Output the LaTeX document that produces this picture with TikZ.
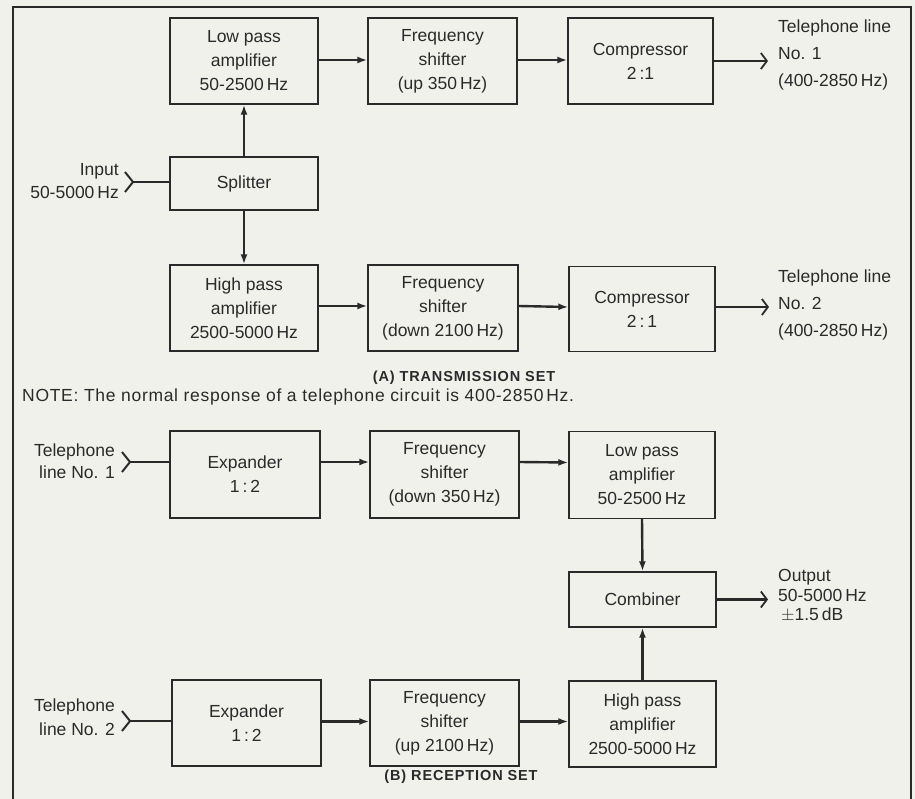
\documentclass[tikz,border=0pt]{standalone}
\usepackage{fontspec}
\setmainfont{Liberation Sans}
\usetikzlibrary{arrows.meta}
\definecolor{paper}{HTML}{F1F1EC}
\definecolor{ink}{HTML}{2A2A2A}
\tikzset{
  blk/.style={draw=ink, line width=1.3pt, minimum width=148pt, minimum height=86pt, inner sep=0pt,
    align=center, text=ink, font=\fontsize{17.5}{24}\selectfont},
  lbl/.style={inner sep=0pt, text=ink, font=\fontsize{17.5}{24}\selectfont},
  arr/.style={draw=ink, line width=2.4pt, -{Latex[length=10pt,width=7pt]}},
  outarr/.style={draw=ink, line width=2.4pt, -{Straight Barb[length=6pt,width=16pt,line width=1.8pt]}},
  fork/.style={draw=ink, line width=2pt},
  capt/.style={inner sep=0pt, text=ink, font=\fontsize{14.5}{16}\selectfont\bfseries\addfontfeature{LetterSpace=6}},
}
\begin{document}
\begin{tikzpicture}[x=1pt,y=-1pt]
\fill[paper] (0,0) rectangle (915,799);
\useasboundingbox (0,0) rectangle (915,799);
% frame
\draw[ink, line width=1.6pt] (13,799) -- (13,7) -- (911,7) -- (911,799);

% ---- (A) transmission set
\node[blk] (tlp) at (244,61) {Low pass\\amplifier\\50-2500\,Hz};
\node[blk, minimum width=149pt] (tfs) at (442.5,61) {Frequency\\shifter\\(up 350\,Hz)};
\node[blk, minimum width=145pt] (tcp) at (640.5,61) {Compressor\\2\,:1};
\node[blk, minimum height=53pt] (spl) at (244,183.5) {Splitter};
\node[blk] (thp) at (244,308) {High pass\\amplifier\\2500-5000\,Hz};
\node[blk, minimum width=150pt] (tfs2) at (443,308) {Frequency\\shifter\\(down 2100\,Hz)};
\node[blk, minimum width=146pt, minimum height=85pt] (tcp2) at (642,309) {Compressor\\2\,:\,1};

\node[lbl, anchor=west, align=left, font=\fontsize{17.5}{27}\selectfont] (tout1) at (778,55) {Telephone line\\No. 1\\(400-2850\,Hz)};
\node[lbl, anchor=west, align=left, font=\fontsize{17.5}{27}\selectfont] (tout2) at (778,305) {Telephone line\\No. 2\\(400-2850\,Hz)};
\node[lbl, anchor=east, align=right, font=\fontsize{17.5}{23}\selectfont] (inp) at (119,181) {Input\\50-5000\,Hz};

\coordinate (inv) at (133,182);
\coordinate (inA) at (125,172);
\coordinate (inB) at (125,192);
\draw[fork] (inA) -- (inv) -- (inB);
\draw[fork] (inv) -- (inv -| spl.west);

\draw[arr] (spl.north) -- (tlp.south);
\draw[arr] (spl.south) -- (thp.north);
\draw[arr] ([yshift=1pt]tlp.east) -- ([yshift=1pt]tfs.west);
\draw[arr] ([yshift=1pt]tfs.east) -- ([yshift=1pt]tcp.west);
\draw[outarr] (tcp.east) -- ([xshift=-10pt]tout1.west |- tcp.east);
\draw[arr] ([yshift=2pt]thp.east) -- ([yshift=2pt]tfs2.west);
\draw[arr] ([yshift=2pt]tfs2.east) -- ([yshift=2pt]tcp2.west);
\draw[outarr] ([yshift=2pt]tcp2.east) -- ([xshift=-9pt,yshift=2pt]tout2.west |- tcp2.east);

\node[capt] (capA) at (464,378) {(A) TRANSMISSION SET};
\node[lbl, anchor=west, font=\fontsize{17.5}{24}\selectfont\addfontfeature{LetterSpace=4}] (note) at (22,397) {NOTE: The normal response of a telephone circuit is 400-2850\,Hz.};

% ---- (B) reception set
\node[blk, minimum width=150pt, minimum height=87pt] (rex) at (245,474.5) {Expander\\1\,:\,2};
\node[blk, minimum width=149pt, minimum height=87pt] (rfs) at (444.5,474.5) {Frequency\\shifter\\(down 350\,Hz)};
\node[blk, minimum width=146pt, minimum height=87pt] (rlp) at (642,475) {Low pass\\amplifier\\50-2500\,Hz};
\node[blk, minimum width=147pt, minimum height=55pt] (cmb) at (642.5,599.5) {Combiner};
\node[blk, minimum width=149pt] (rex2) at (246.5,723) {Expander\\1\,:\,2};
\node[blk, minimum width=149pt] (rfs2) at (444.5,723) {Frequency\\shifter\\(up 2100\,Hz)};
\node[blk, minimum width=147pt] (rhp) at (642.5,724) {High pass\\amplifier\\2500-5000\,Hz};

\node[lbl, anchor=east, align=right, font=\fontsize{17.5}{22}\selectfont] (rin1) at (115,461) {Telephone\\line No. 1};
\node[lbl, anchor=east, align=right, font=\fontsize{17.5}{24}\selectfont] (rin2) at (115,717) {Telephone\\line No. 2};
\node[lbl, anchor=west, align=left, font=\fontsize{17.5}{19.5}\selectfont] (rout) at (778,596) {Output\\50-5000\,Hz\\\,$\pm$1.5\,dB};

\coordinate (r1v) at (130,462);
\coordinate (r1A) at (122,452);
\coordinate (r1B) at (122,472);
\draw[fork] (r1A) -- (r1v) -- (r1B);
\draw[fork] (r1v) -- (r1v -| rex.west);
\coordinate (r2v) at (130,721);
\coordinate (r2A) at (122,711);
\coordinate (r2B) at (122,731);
\draw[fork] (r2A) -- (r2v) -- (r2B);
\draw[fork] (r2v) -- (r2v -| rex2.west);

\draw[arr] ([yshift=12.5pt]rex.east) -- ([yshift=12.5pt]rfs.west);
\draw[arr] ([yshift=12.5pt]rfs.east) -- ([yshift=12.5pt]rlp.west);
\draw[arr] (rlp.south) -- (cmb.north);
\draw[arr] (rhp.north) -- (cmb.south);
\draw[outarr] (cmb.east) -- ([xshift=-10pt]rout.west |- cmb.east);
\draw[arr] ([yshift=1.5pt]rex2.east) -- ([yshift=1.5pt]rfs2.west);
\draw[arr] ([yshift=1.5pt]rfs2.east) -- ([yshift=1.5pt]rfs2.east -| rhp.west);

\node[capt] (capB) at (461,777) {(B) RECEPTION SET};
\end{tikzpicture}
\end{document}
